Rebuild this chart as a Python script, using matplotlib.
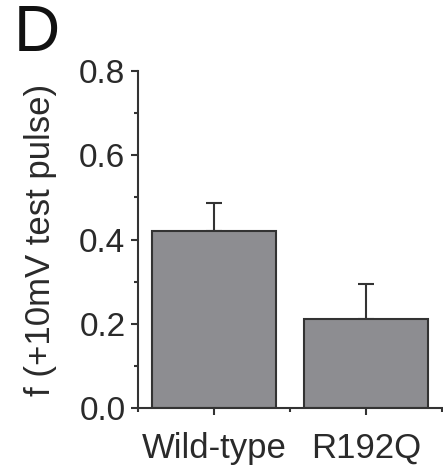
import matplotlib
matplotlib.use("Agg")
import matplotlib.pyplot as plt
from matplotlib.ticker import MultipleLocator
import numpy as np

groups = ["Wild-type", "R192Q"]
means = [0.419, 0.212]
errs = [0.067, 0.083]

plt.rcParams['font.family'] = ['Liberation Sans', 'DejaVu Sans']

fig = plt.figure(figsize=(4.43, 4.67), dpi=100)
ax = fig.add_axes([0.3115, 0.1263, 0.6865, 0.7217])

x = np.arange(1, len(groups) + 1)
ax.bar(x, means, width=0.81, color="#8d8d91", edgecolor="#333333", linewidth=1.5, zorder=2)
ax.errorbar(x, means, yerr=[np.zeros(len(errs)), errs], fmt="none",
            ecolor="#333333", elinewidth=1.5, capsize=6, capthick=1.5, zorder=1)

ax.set_xlim(0.5, 2.5)
ax.set_ylim(0, 0.8)
ax.set_xticks(x)
ax.set_xticklabels(groups, fontsize=25, color="#2a2a2a")
ax.xaxis.set_minor_locator(MultipleLocator(0.5))
ax.yaxis.set_major_locator(MultipleLocator(0.2))
ax.yaxis.set_minor_locator(MultipleLocator(0.1))
ax.set_yticklabels([f"{v:.1f}" for v in ax.get_yticks()], fontsize=24, color="#2a2a2a")
ax.tick_params(which="major", length=5, width=1.5, color="#333333", pad=4)
ax.tick_params(which="minor", length=3, width=1.5, color="#333333")
ax.tick_params(axis="x", pad=12)

for s in ["top", "right"]:
    ax.spines[s].set_visible(False)
for s in ["left", "bottom"]:
    ax.spines[s].set_linewidth(1.5)
    ax.spines[s].set_color("#333333")

ax.set_ylabel("f (+10mV test pulse)", fontsize=25, color="#2a2a2a", labelpad=16)
fig.text(0.03, 0.991, "D", fontsize=46, va="top", ha="left", color="#111111")

fig.savefig("out.png", dpi=100)
